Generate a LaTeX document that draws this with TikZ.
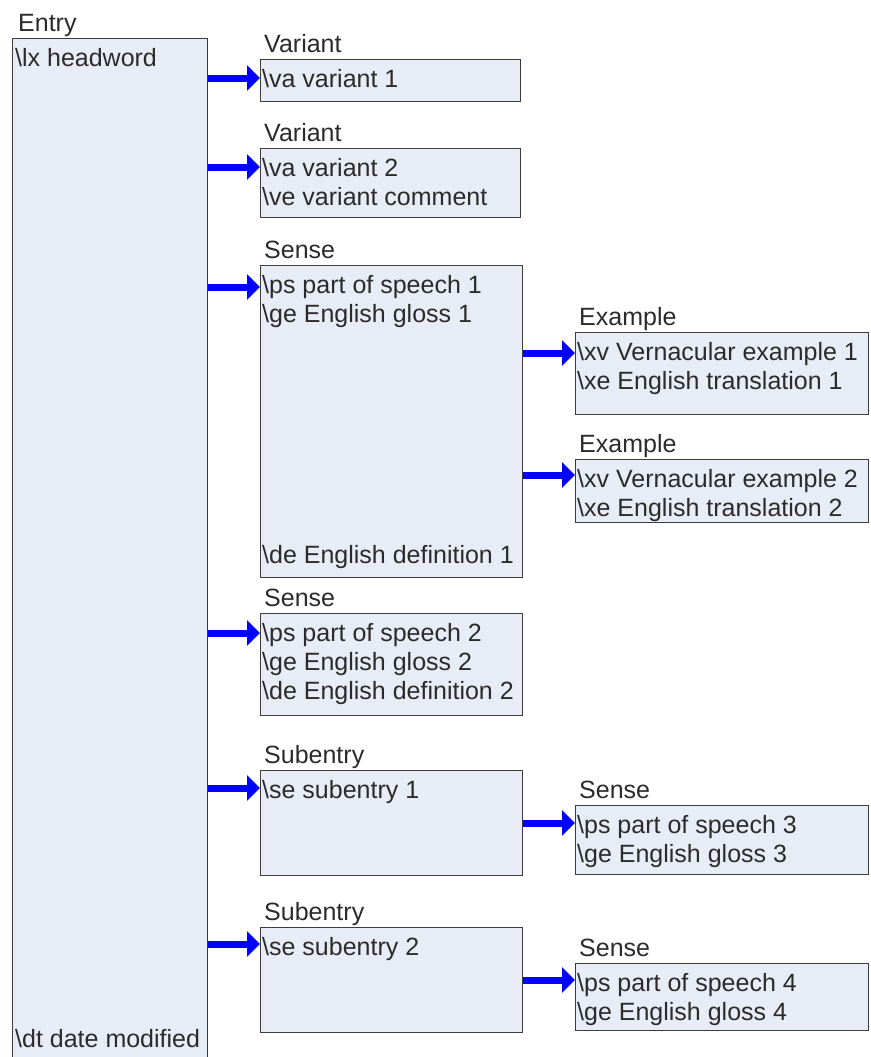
\documentclass[tikz,border=0pt]{standalone}
\usepackage{fontspec}
\setmainfont{Liberation Sans}
\usetikzlibrary{arrows.meta,positioning}

\definecolor{boxfill}{HTML}{E8ECF6}
\definecolor{boxline}{HTML}{3C3C3C}
\definecolor{ink}{HTML}{2B2B2B}

\begin{document}
\begin{tikzpicture}[
    x=1pt, y=-1pt,
    node distance=6pt and 4pt,
    block/.style={draw=boxline, fill=boxfill, line width=1.3pt, anchor=north west, inner sep=0pt},
    lines/.style={align=left, inner sep=2pt, text=ink, font=\fontsize{25}{29}\selectfont},
    lastline/.style={inner sep=0pt, text depth=0pt, text=ink, font=\fontsize{25}{29}\selectfont},
    title/.style={inner sep=0pt, text depth=0pt, text=ink, font=\fontsize{25}{29}\selectfont},
    arrow/.style={-{Triangle[length=13pt,width=25pt]}, line width=7pt, blue},
]
    \useasboundingbox (0,0) rectangle (870,1057);
    \clip (0,0) rectangle (870,1057);

    % boxes
    \node[block, minimum width=195pt, minimum height=1024pt] (entry) at (12,38) {};
    \node[block, minimum width=260pt, minimum height=42pt] (va1) at (260,59) {};
    \node[block, minimum width=260pt, minimum height=69pt] (va2) at (260,148) {};
    \node[block, minimum width=262pt, minimum height=312pt] (se1) at (260,265) {};
    \node[block, minimum width=293pt, minimum height=82pt] (ex1) at (575,332) {};
    \node[block, minimum width=293pt, minimum height=63pt] (ex2) at (575,459) {};
    \node[block, minimum width=262pt, minimum height=102pt] (se2) at (260,613) {};
    \node[block, minimum width=262pt, minimum height=105pt] (sub1) at (260,770) {};
    \node[block, minimum width=293pt, minimum height=69pt] (se3) at (575,805) {};
    \node[block, minimum width=262pt, minimum height=105pt] (sub2) at (260,927) {};
    \node[block, minimum width=293pt, minimum height=67pt] (se4) at (575,963) {};

    % titles
    \node[title, above right=of entry.north west, xshift=2pt] (tentry) {Entry};
    \node[title, above right=of va1.north west] (tva1) {Variant};
    \node[title, above right=of va2.north west] (tva2) {Variant};
    \node[title, above right=of se1.north west] (tse1) {Sense};
    \node[title, above right=of ex1.north west] (tex1) {Example};
    \node[title, above right=of ex2.north west] (tex2) {Example};
    \node[title, above right=of se2.north west] (tse2) {Sense};
    \node[title, above right=of sub1.north west] (tsub1) {Subentry};
    \node[title, above right=of se3.north west] (tse3) {Sense};
    \node[title, above right=of sub2.north west] (tsub2) {Subentry};
    \node[title, above right=of se4.north west] (tse4) {Sense};

    % contents
    \node[lines, below right=8pt and 1pt of entry.north west] (lentry) {\textbackslash lx headword};
    \node[lastline, above right=16pt and 3pt of entry.south west] (dentry) {\textbackslash dt date modified};
    \node[lines, below right=8pt and 0pt of va1.north west] (lva1) {\textbackslash va variant 1};
    \node[lines, below right=8pt and 0pt of va2.north west] (lva2) {\textbackslash va variant 2\\\textbackslash ve variant comment};
    \node[lines, below right=8pt and 0pt of se1.north west] (lse1) {\textbackslash ps part of speech 1\\\textbackslash ge English gloss 1};
    \node[lastline, above right=15pt and 2pt of se1.south west] (dse1) {\textbackslash de English definition 1};
    \node[lines, below right=8pt and 0pt of ex1.north west] (lex1) {\textbackslash xv Vernacular example 1\\\textbackslash xe English translation 1};
    \node[lines, below right=8pt and 0pt of ex2.north west] (lex2) {\textbackslash xv Vernacular example 2\\\textbackslash xe English translation 2};
    \node[lines, below right=8pt and 0pt of se2.north west] (lse2) {\textbackslash ps part of speech 2\\\textbackslash ge English gloss 2\\\textbackslash de English definition 2};
    \node[lines, below right=8pt and 0pt of sub1.north west] (lsub1) {\textbackslash se subentry 1};
    \node[lines, below right=8pt and 0pt of se3.north west] (lse3) {\textbackslash ps part of speech 3\\\textbackslash ge English gloss 3};
    \node[lines, below right=8pt and 0pt of sub2.north west] (lsub2) {\textbackslash se subentry 2};
    \node[lines, below right=8pt and 0pt of se4.north west] (lse4) {\textbackslash ps part of speech 4\\\textbackslash ge English gloss 4};

    % arrow ends
    \coordinate (iva1) at ([yshift=-19pt]va1.north west);
    \coordinate (iva2) at ([yshift=-19pt]va2.north west);
    \coordinate (ise1) at ([yshift=-22pt]se1.north west);
    \coordinate (iex1) at ([yshift=-21pt]ex1.north west);
    \coordinate (iex2) at ([yshift=-16pt]ex2.north west);
    \coordinate (ise2) at ([yshift=-20pt]se2.north west);
    \coordinate (isub1) at ([yshift=-18pt]sub1.north west);
    \coordinate (ise3) at ([yshift=-18pt]se3.north west);
    \coordinate (isub2) at ([yshift=-17pt]sub2.north west);
    \coordinate (ise4) at ([yshift=-17pt]se4.north west);

    \draw[arrow] (entry.east |- iva1) -- (iva1);
    \draw[arrow] (entry.east |- iva2) -- (iva2);
    \draw[arrow] (entry.east |- ise1) -- (ise1);
    \draw[arrow] (entry.east |- ise2) -- (ise2);
    \draw[arrow] (entry.east |- isub1) -- (isub1);
    \draw[arrow] (entry.east |- isub2) -- (isub2);
    \draw[arrow] (se1.east |- iex1) -- (iex1);
    \draw[arrow] (se1.east |- iex2) -- (iex2);
    \draw[arrow] (sub1.east |- ise3) -- (ise3);
    \draw[arrow] (sub2.east |- ise4) -- (ise4);
\end{tikzpicture}
\end{document}
